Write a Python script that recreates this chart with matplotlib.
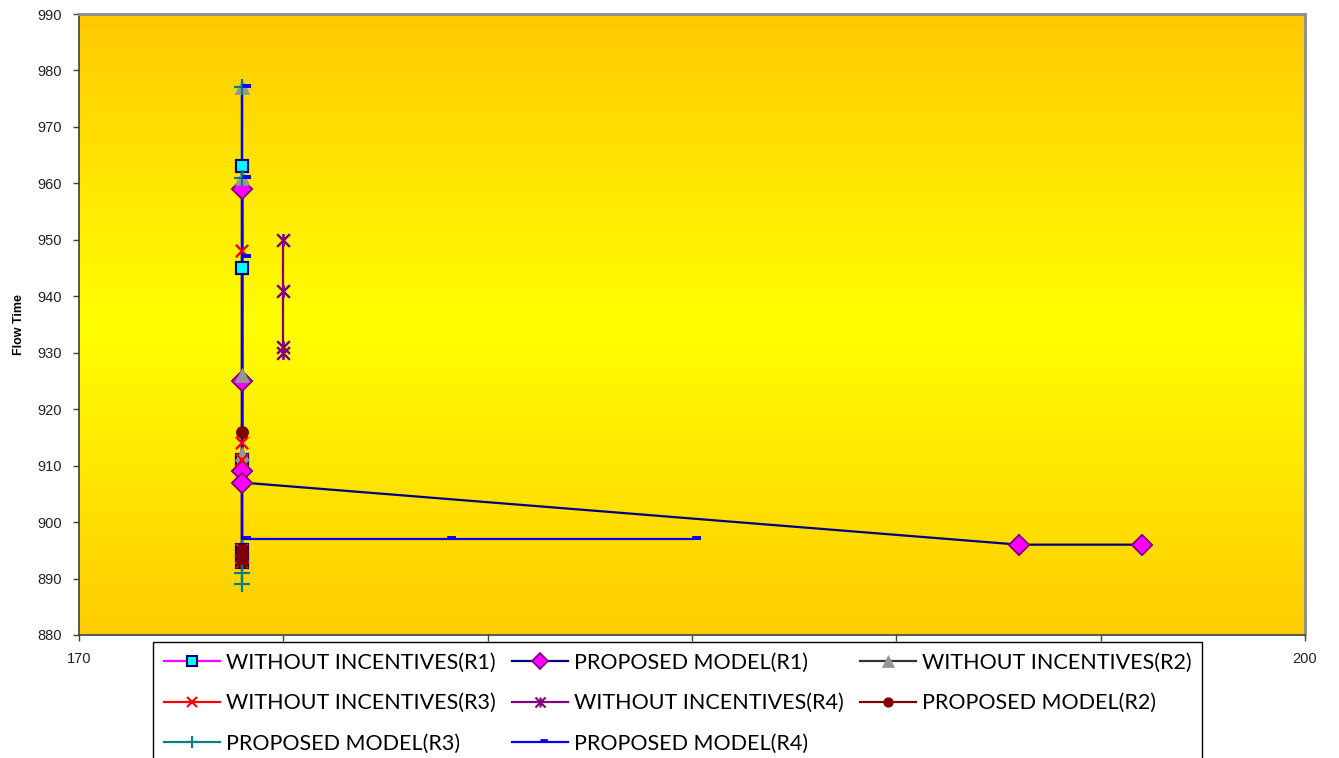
import numpy as np
import matplotlib.pyplot as plt
from matplotlib.colors import LinearSegmentedColormap
from matplotlib.path import Path

# flow time per run, x = setting value
r1_without_x = [174, 174, 174, 174, 174]
r1_without_y = [963, 945, 911, 895, 893]
r1_proposed_x = [174, 174, 174, 174, 193, 196]
r1_proposed_y = [959, 925, 909, 907, 896, 896]
r2_without_x = [174, 174, 174, 174, 174]
r2_without_y = [977, 961, 926, 912, 894]
r3_without_x = [174, 174, 174, 174, 174]
r3_without_y = [948, 914, 911, 895, 893]
r4_without_x = [175, 175, 175, 175]
r4_without_y = [950, 941, 931, 930]
r2_proposed_x = [174, 174, 174, 174]
r2_proposed_y = [916, 895, 894, 893]
r3_proposed_x = [174, 174, 174, 174]
r3_proposed_y = [977, 961, 891, 889]
r4_proposed_x = [174, 174, 174, 174, 179, 185]
r4_proposed_y = [977, 961, 947, 897, 897, 897]

x_ticks = [170, 175, 180, 185, 190, 195, 200]
x_labels = ["170", "", "", "", "", "", "200"]  # middle ones sit under the legend
y_ticks = list(range(880, 991, 10))

star_path = Path([(-1, -1), (1, 1), (-1, 1), (1, -1), (0, -1), (0, 1)],
                 [Path.MOVETO, Path.LINETO, Path.MOVETO, Path.LINETO, Path.MOVETO, Path.LINETO])
dash = [(0, 0), (1, 0), (1, 0.4), (0, 0.4)]

series = [
    ("WITHOUT INCENTIVES(R1)", r1_without_x, r1_without_y,
     dict(color="#FF00FF", marker="s", ms=8.5, mfc="#00FFFF", mec="#000080", mew=1.5)),
    ("PROPOSED MODEL(R1)", r1_proposed_x, r1_proposed_y,
     dict(color="#000080", marker="D", ms=10.5, mfc="#FF00FF", mec="#800080", mew=1.2)),
    ("WITHOUT INCENTIVES(R2)", r2_without_x, r2_without_y,
     dict(color="#333333", marker="^", ms=10, mfc="#969696", mec="#969696", mew=0.5)),
    ("WITHOUT INCENTIVES(R3)", r3_without_x, r3_without_y,
     dict(color="#FF0000", marker="x", ms=9, mfc="#FF0000", mec="#FF0000", mew=1.5)),
    ("WITHOUT INCENTIVES(R4)", r4_without_x, r4_without_y,
     dict(color="#800080", marker=star_path, ms=9, mfc="none", mec="#800080", mew=1.5)),
    ("PROPOSED MODEL(R2)", r2_proposed_x, r2_proposed_y,
     dict(color="#800000", marker="o", ms=8, mfc="#800000", mec="#800000", mew=1)),
    ("PROPOSED MODEL(R3)", r3_proposed_x, r3_proposed_y,
     dict(color="#008080", marker="+", ms=11, mfc="#008080", mec="#008080", mew=1.5)),
    ("PROPOSED MODEL(R4)", r4_proposed_x, r4_proposed_y,
     dict(color="#0000FF", marker=dash, ms=12, mfc="#0000FF", mec="#0000FF", mew=0.5)),
]

fig = plt.figure(figsize=(13.39, 7.58), dpi=100)
ax = fig.add_axes([79 / 1339, 1 - 635 / 758, (1305 - 79) / 1339, (635 - 14) / 758])

# orange-yellow-orange background
grad = LinearSegmentedColormap.from_list("bg", ["#FFCA00", "#FFFF00", "#FFCC00"])
ax.imshow(np.linspace(0, 1, 256).reshape(-1, 1), cmap=grad, aspect="auto",
          extent=[0, 1, 0, 1], transform=ax.transAxes, zorder=0)

handles = []
for name, xs, ys, st in series:
    h, = ax.plot(xs, ys, lw=1.6, label=name, zorder=2, **st)
    handles.append(h)
# markers go on top of every line
for name, xs, ys, st in series:
    mk = dict(st)
    mk.pop("color")
    ax.plot(xs, ys, ls="none", zorder=3, **mk)

ax.set_xlim(170, 200)
ax.set_ylim(880, 990)
ax.set_xticks(x_ticks, x_labels)
ax.set_yticks(y_ticks)
ax.tick_params(direction="out", length=4, width=1, colors="#404040", labelcolor="#222222",
               labelsize=10.5, pad=8)
for lab in ax.get_xticklabels() + ax.get_yticklabels():
    lab.set_family("Liberation Sans")
for s in ["left", "bottom"]:
    ax.spines[s].set_color("#404040")
    ax.spines[s].set_linewidth(1.2)
for s in ["top", "right"]:
    ax.spines[s].set_color("#8C8C8C")
    ax.spines[s].set_linewidth(2)
ax.set_ylabel("Flow Time", fontsize=9, fontweight="bold", family="Liberation Sans", labelpad=9)

order = [0, 3, 6, 1, 4, 7, 2, 5]
leg = fig.legend([handles[i] for i in order], [series[i][0] for i in order],
                 loc="upper left", bbox_to_anchor=(153 / 1339, 1 - 642 / 758), ncol=3,
                 prop=dict(family="Lato", size=15.5), frameon=True, fancybox=False,
                 edgecolor="black", framealpha=1, handlelength=2.6, handletextpad=0.28,
                 columnspacing=0.75, labelspacing=0.95, borderpad=0.5, borderaxespad=0,
                 markerscale=0.8)
leg.get_frame().set_linewidth(1)

plt.savefig("out.png", dpi=100)
